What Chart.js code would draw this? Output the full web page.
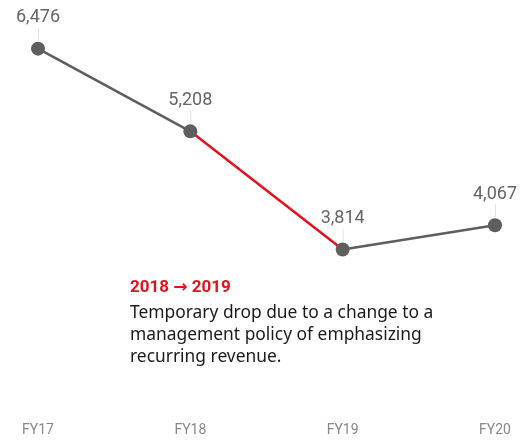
<!DOCTYPE html>
<html>
<head>
<meta charset="utf-8">
<style>
  html, body { margin: 0; padding: 0; background: #fff; }
  #wrap { width: 528px; height: 441px; position: relative; }
</style>
<script src="https://cdn.jsdelivr.net/npm/chart.js@4/dist/chart.umd.min.js"></script>
</head>
<body>
<div id="wrap"><canvas id="salesChart"></canvas></div>
<script>
// Fiscal years and sales values
const years = ['FY17', 'FY18', 'FY19', 'FY20'];
const sales = [6476, 5208, 3814, 4067];
// Index of the segment drawn in red (FY18 -> FY19)
const highlightSegment = 1;

// Log axis range
const yMin = 2420;
const yMax = 7170;

const noteTitle = '2018 \u2192 2019';
const noteLines = [
    'Temporary drop due to a change to a',
    'management policy of emphasizing',
    'recurring revenue.'
];

// Value labels above each point, with a thin leader line down to the marker
const valueLabels = {
    id: 'valueLabels',
    afterDatasetsDraw(chart) {
        const ctx = chart.ctx;
        const meta = chart.getDatasetMeta(0);
        ctx.save();
        meta.data.forEach((pt, i) => {
            ctx.strokeStyle = '#e4e4e4';
            ctx.lineWidth = 1;
            ctx.beginPath();
            ctx.moveTo(pt.x + 0.5, pt.y - 21);
            ctx.lineTo(pt.x + 0.5, pt.y - 8);
            ctx.stroke();

            ctx.fillStyle = '#666';
            ctx.font = '18px Roboto';
            ctx.textAlign = 'center';
            ctx.textBaseline = 'middle';
            ctx.fillText(sales[i].toLocaleString('en-US'), pt.x, pt.y - 31);
        });
        ctx.restore();
    }
};

// Note explaining the FY18 -> FY19 drop
const dropNote = {
    id: 'dropNote',
    afterDraw(chart) {
        const ctx = chart.ctx;
        ctx.save();
        ctx.textAlign = 'left';
        ctx.textBaseline = 'alphabetic';
        ctx.fillStyle = '#e3121d';
        ctx.font = 'bold 17px Roboto, "DejaVu Sans"';
        ctx.fillText(noteTitle, 130, 292);
        ctx.fillStyle = '#1a1a1a';
        ctx.font = '17.4px "Noto Sans"';
        noteLines.forEach((line, i) => {
            ctx.fillText(line, 130, 318 + i * 22);
        });
        ctx.restore();
    }
};

const ctx = document.getElementById('salesChart').getContext('2d');
new Chart(ctx, {
    type: 'line',
    data: {
        labels: years,
        datasets: [{
            data: sales,
            borderColor: '#5e5e5e',
            borderWidth: 2.5,
            pointRadius: 7,
            pointHoverRadius: 7,
            pointBackgroundColor: '#5e5e5e',
            pointBorderWidth: 0,
            tension: 0,
            segment: {
                borderColor: c => c.p0DataIndex === highlightSegment ? '#e3121d' : '#5e5e5e'
            }
        }]
    },
    options: {
        responsive: true,
        maintainAspectRatio: false,
        animation: false,
        layout: { padding: { left: 38, right: 33, top: 10, bottom: 2 } },
        plugins: {
            legend: { display: false },
            tooltip: { enabled: false }
        },
        scales: {
            x: {
                offset: false,
                grid: { display: false, drawTicks: false },
                border: { display: false },
                ticks: {
                    padding: 0,
                    color: '#888',
                    font: { family: 'Roboto', size: 14 }
                }
            },
            y: {
                type: 'logarithmic',
                display: false,
                min: yMin,
                max: yMax
            }
        }
    },
    plugins: [valueLabels, dropNote]
});
</script>
</body>
</html>
